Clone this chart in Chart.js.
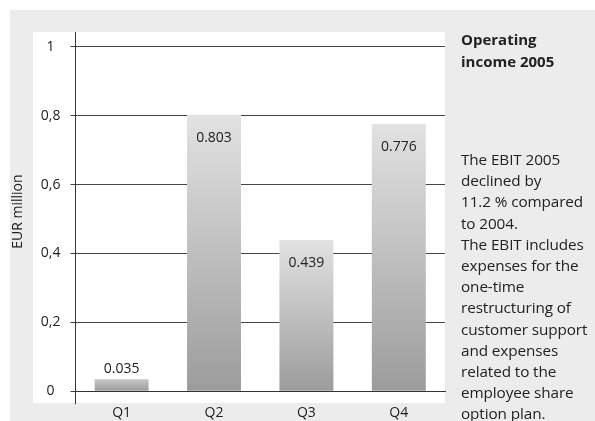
<!doctype html>
<html lang="en">
<head>
<meta charset="utf-8">
<title>Operating income 2005</title>
<script src="https://cdn.jsdelivr.net/npm/chart.js@4.4.1/dist/chart.umd.min.js"></script>
<style>
  html, body { margin:0; padding:0; background:#fff; }
  body { width:595px; height:421px; position:relative; overflow:hidden; font-family:"Open Sans", sans-serif; color:#222; }
  #panel { position:absolute; left:10px; top:10px; width:585px; height:411px; background:#ececec; }
  #plotbg { position:absolute; left:33px; top:32px; width:412px; height:371px; background:#fff; }
  #wrap { position:absolute; left:0; top:0; width:595px; height:421px; }
  #side { position:absolute; left:461px; top:28px; width:134px; font-size:15.3px; line-height:21.2px; }
  #side h1 { margin:0; font-size:15px; line-height:22px; font-weight:700; }
  #side p { margin:77px 0 0 0; white-space:nowrap; letter-spacing:-0.1px; }
</style>
</head>
<body>
<div id="panel"></div>
<div id="plotbg"></div>
<div id="wrap"><canvas id="barChart" width="595" height="421"></canvas></div>
<div id="side">
  <h1>Operating<br>income 2005</h1>
  <p>The EBIT 2005<br>declined by<br>11.2 % compared<br>to 2004.<br>The EBIT includes<br>expenses for the<br>one-time<br>restructuring of<br>customer support<br>and expenses<br>related to the<br>employee share<br>option plan.</p>
</div>
<script>
// quarterly operating income, EUR million
var quarters = ['Q1', 'Q2', 'Q3', 'Q4'];
var income = [0.035, 0.803, 0.439, 0.776];
var yTickLabels = ['0', '0,2', '0,4', '0,6', '0,8', '1'];

// light at the top of each bar, darker at its base
function barGradient(context) {
  var chart = context.chart;
  if (!chart.chartArea || !chart.scales.y) return '#bbb';
  var y = chart.scales.y;
  var top = y.getPixelForValue(context.raw);
  var base = y.getPixelForValue(0);
  if (!isFinite(top) || base - top < 1) return '#bbb';
  var g = chart.ctx.createLinearGradient(0, top, 0, base);
  var v = context.raw;
  g.addColorStop(0, v < 0.1 ? '#c6c6c6' : '#e2e2e2');
  g.addColorStop(1, '#9c9c9c');
  return g;
}

// value labels: inside the top of tall bars, above short ones
var valueLabels = {
  id: 'valueLabels',
  afterDatasetsDraw: function(chart) {
    var ctx = chart.ctx;
    var meta = chart.getDatasetMeta(0);
    ctx.save();
    ctx.font = '14px "Open Sans"';
    ctx.fillStyle = '#222';
    ctx.textAlign = 'center';
    ctx.textBaseline = 'middle';
    meta.data.forEach(function(bar, i) {
      var v = income[i];
      var y = v < 0.1 ? bar.y - 10 : bar.y + 23;
      ctx.fillText(v.toFixed(3), bar.x, y);
    });
    ctx.restore();
  }
};

new Chart(document.getElementById('barChart'), {
  type: 'bar',
  data: {
    labels: quarters,
    datasets: [{
      data: income,
      backgroundColor: barGradient,
      borderWidth: 0,
      barPercentage: 0.584,
      categoryPercentage: 1
    }]
  },
  options: {
    responsive: false,
    animation: false,
    layout: { padding: { left: 10, right: 150, top: 32, bottom: 0 } },
    plugins: { legend: { display: false }, tooltip: { enabled: false } },
    scales: {
      x: {
        grid: {
          drawOnChartArea: false,
          tickLength: 13,
          color: function(c) { return c.index === 0 ? '#333' : 'rgba(0,0,0,0)'; }
        },
        border: { display: true, color: '#333' },
        ticks: { color: '#222', font: { family: 'Open Sans', size: 14 }, padding: 0 }
      },
      y: {
        min: 0,
        max: 1.043,
        afterBuildTicks: function(scale) {
          scale.ticks = [0, 0.2, 0.4, 0.6, 0.8, 1].map(function(v) { return { value: v }; });
        },
        grid: { color: '#444', lineWidth: 1, tickLength: 5 },
        border: { display: true, color: '#333' },
        ticks: {
          color: '#222',
          font: { family: 'Open Sans', size: 14 },
          padding: 10,
          crossAlign: 'center',
          callback: function(v, i) { return yTickLabels[i]; }
        },
        title: {
          display: true,
          text: 'EUR million',
          color: '#222',
          font: { family: 'Open Sans', size: 14 },
          padding: { top: 0, bottom: 4 }
        }
      }
    }
  },
  plugins: [valueLabels]
});
</script>
</body>
</html>
